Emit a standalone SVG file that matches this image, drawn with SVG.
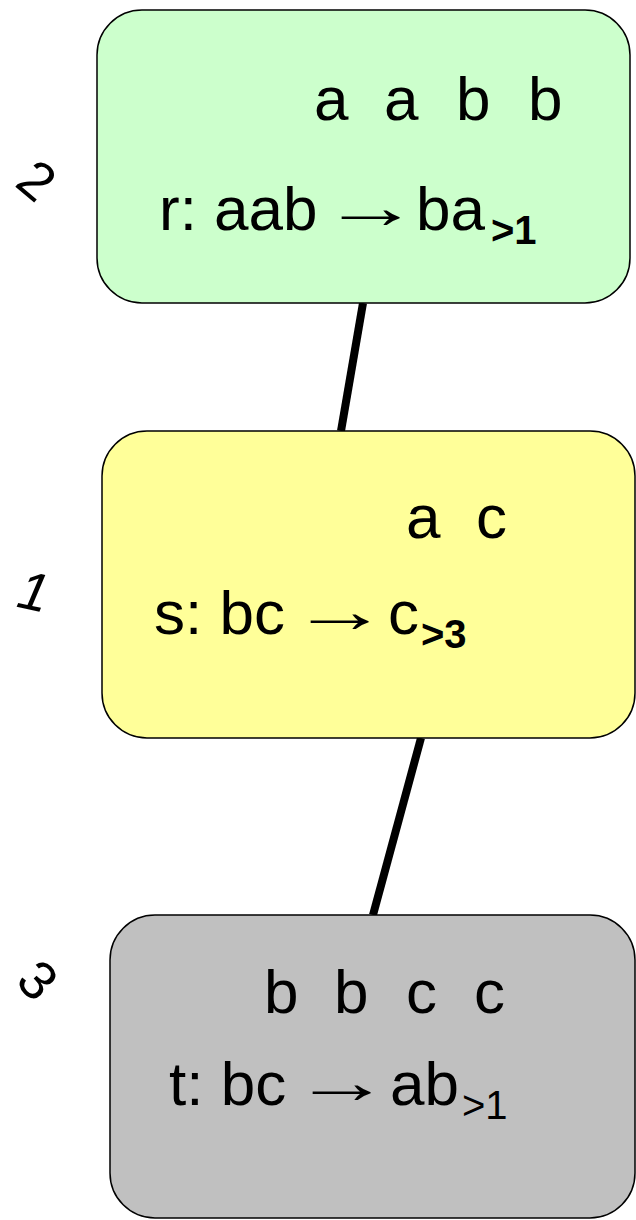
<svg xmlns="http://www.w3.org/2000/svg" width="636" height="1220" viewBox="0 0 636 1220">
<style>
.box{stroke:#000;stroke-width:1.5}
.t{font-family:"Liberation Sans",Arial,sans-serif;font-size:62px;fill:#000}
.ar{font-size:61px}
.sb{font-size:40px;font-weight:bold}
.sn{font-size:40px}
.num{font-family:"Liberation Sans",Arial,sans-serif;font-size:54px;fill:#000;text-anchor:middle}
.edge{stroke:#000;stroke-width:8;fill:none}
</style>
<rect width="636" height="1220" fill="#fff"/>
<g id="connectors">
<line class="edge" x1="363" y1="303" x2="341" y2="431"/>
<line class="edge" x1="421" y1="738" x2="373" y2="915"/>
</g>
<g id="node-r">
<rect class="box" x="97" y="10" width="533" height="293" rx="45" fill="#CCFFCC"/>
<text class="t" x="314 384 456 528" y="120">aabb</text>
<text class="t" x="159" y="230">r: aab<tspan class="ar" x="322" y="228" textLength="98" lengthAdjust="spacingAndGlyphs">→</tspan><tspan x="416" y="230">ba</tspan><tspan class="sb" x="491" y="244">&gt;1</tspan></text>
</g>
<g id="node-s">
<rect class="box" x="102" y="431" width="533" height="307" rx="45" fill="#FFFF99"/>
<text class="t" x="406 476" y="538">ac</text>
<text class="t" x="154" y="634">s: bc<tspan class="ar" x="291" y="632" textLength="98" lengthAdjust="spacingAndGlyphs">→</tspan><tspan x="388" y="634">c</tspan><tspan class="sb" x="421" y="648">&gt;3</tspan></text>
</g>
<g id="node-t">
<rect class="box" x="110" y="915" width="525" height="303" rx="45" fill="#C0C0C0"/>
<text class="t" x="264 334 406 474" y="1013">bbcc</text>
<text class="t" x="169" y="1105">t: bc<tspan class="ar" x="293" y="1103" textLength="98" lengthAdjust="spacingAndGlyphs">→</tspan><tspan x="390" y="1105">ab</tspan><tspan class="sn" x="462" y="1119">&gt;1</tspan></text>
</g>
<g id="labels">
<text class="num" transform="translate(37,180) rotate(40)" y="19">2</text>
<text class="num" transform="translate(34,591) rotate(12)" y="19" font-style="italic">1</text>
<text class="num" transform="translate(38,980) rotate(45)" y="19">3</text>
</g>
</svg>
